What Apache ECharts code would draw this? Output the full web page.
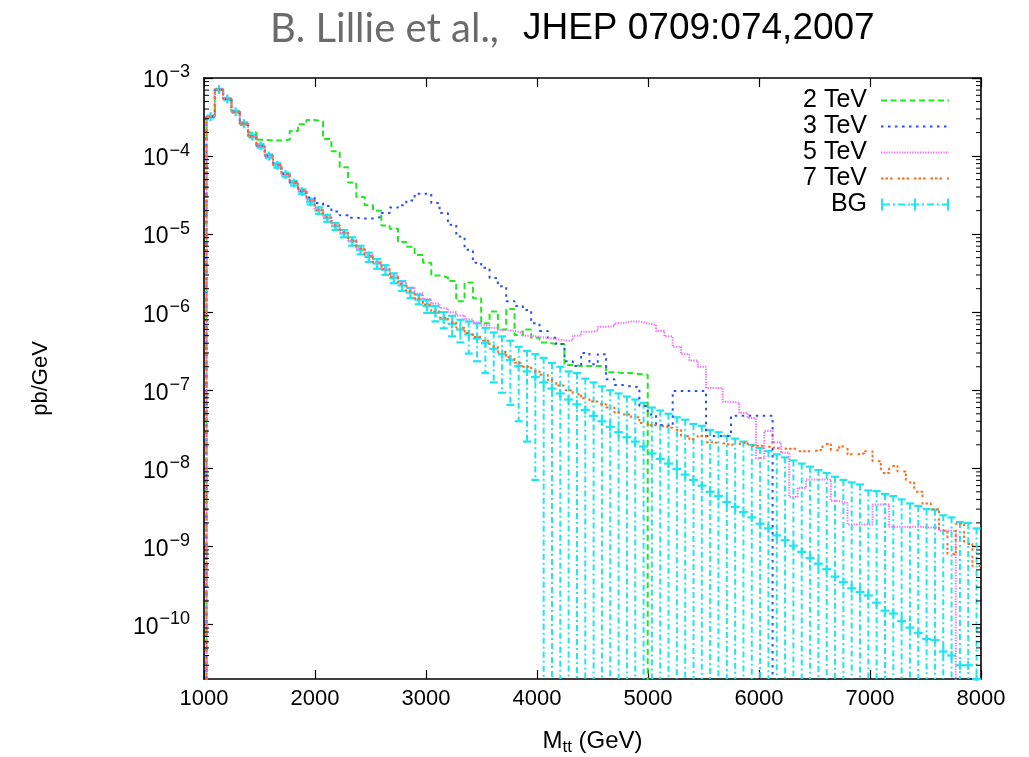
<!DOCTYPE html>
<html><head><meta charset="utf-8">
<script src="https://cdn.jsdelivr.net/npm/echarts@6/dist/echarts.min.js"></script>
<style>html,body{margin:0;padding:0;background:#fff;}#chart{width:1029px;height:757px;}</style>
</head><body><div id="chart"></div>
<script>
// ---- data ----
const binStart = 1022.5;   // GeV, left edge of first bin
const binWidth = 75;       // GeV
const xTicks = [1000, 2000, 3000, 4000, 5000, 6000, 7000, 8000];
const yDecades = [1e-10, 1e-9, 1e-8, 1e-7, 1e-6, 1e-5, 1e-4, 1e-3];
const seriesNames = ['2 TeV', '3 TeV', '5 TeV', '7 TeV', 'BG'];

const sig2TeV = [
 3.2e-4,7.1e-4,5.4e-4,3.7e-4,2.6e-4,2.0e-4,1.62e-4,1.58e-4,1.58e-4,1.62e-4,
 2.1e-4,2.55e-4,2.9e-4,2.8e-4,1.66e-4,1.15e-4,7.2e-5,4.6e-5,3.0e-5,2.35e-5,
 2.0e-5,1.29e-5,1.17e-5,7.9e-6,6.9e-6,5.4e-6,4.3e-6,2.95e-6,2.8e-6,2.5e-6,
 1.38e-6,2.4e-6,1.51e-6,7.2e-7,1.02e-6,6.0e-7,1.1e-6,5.1e-7,6.0e-7,4.7e-7,
 4.1e-7,3.9e-7,3.9e-7,2.1e-7,2.05e-7,2.05e-7,2.05e-7,2.05e-7,1.7e-7,1.66e-7,
 1.66e-7,1.62e-7,1.58e-7,0,0,0,0,0,0,0,
 0,0,0,0,0,0,0,0,0,0,
 0,0,0,0,0,0,0,0,0,0,
 0,0,0,0,0,0,0,0,0,0,
 0,0,0];
const sig3TeV = [
 3.2e-4,7.1e-4,5.4e-4,3.7e-4,2.6e-4,1.8e-4,1.36e-4,1.01e-4,7.7e-5,5.9e-5,
 4.6e-5,3.55e-5,2.95e-5,2.5e-5,2.3e-5,1.95e-5,1.74e-5,1.62e-5,1.58e-5,1.58e-5,
 1.66e-5,1.86e-5,2.2e-5,2.35e-5,2.7e-5,3.3e-5,3.3e-5,2.5e-5,1.86e-5,1.32e-5,
 9.3e-6,6.3e-6,4.3e-6,3.7e-6,2.75e-6,2.15e-6,1.38e-6,1.2e-6,1.07e-6,7.2e-7,
 5.75e-7,4.7e-7,3.9e-7,2.35e-7,2.05e-7,3.0e-7,2.15e-7,2.9e-7,1.38e-7,1.17e-7,
 1.12e-7,1.1e-7,6.3e-8,4.9e-8,3.6e-8,3.45e-8,9.8e-8,9.8e-8,9.8e-8,9.8e-8,
 2.6e-8,2.6e-8,2.6e-8,4.7e-8,4.7e-8,4.7e-8,4.7e-8,4.7e-8,0,0,
 0,0,0,0,0,0,0,0,0,0,
 0,0,0,0,0,0,0,0,0,0,
 0,0,0];
const sig5TeV = [
 3.2e-4,7.1e-4,5.4e-4,3.7e-4,2.6e-4,1.8e-4,1.36e-4,1.01e-4,7.7e-5,5.9e-5,
 4.6e-5,3.6e-5,2.7e-5,2.05e-5,1.65e-5,1.3e-5,1.05e-5,8.4e-6,6.6e-6,5.4e-6,
 4.4e-6,3.55e-6,2.95e-6,2.45e-6,2.05e-6,1.74e-6,1.48e-6,1.29e-6,1.12e-6,1.0e-6,
 9.1e-7,8.1e-7,7.4e-7,6.8e-7,6.3e-7,5.9e-7,5.75e-7,5.5e-7,5.0e-7,4.8e-7,
 4.7e-7,4.5e-7,4.35e-7,4.35e-7,5.0e-7,5.6e-7,5.75e-7,6.5e-7,6.6e-7,7.2e-7,
 7.6e-7,7.6e-7,7.2e-7,6.9e-7,5.75e-7,4.9e-7,3.6e-7,2.9e-7,2.4e-7,2.0e-7,
 1.07e-7,1.07e-7,7.1e-8,6.9e-8,5.1e-8,4.4e-8,1.35e-8,3.0e-8,2.15e-8,1.58e-8,
 4.3e-9,5.6e-9,7.2e-9,7.2e-9,7.2e-9,3.8e-9,3.6e-9,1.9e-9,1.9e-9,1.9e-9,
 3.45e-9,3.45e-9,1.78e-9,1.78e-9,1.78e-9,1.78e-9,1.74e-9,1.74e-9,1.58e-9,1.58e-9,
 0,0,0];
const sig7TeV = [
 3.2e-4,7.1e-4,5.4e-4,3.7e-4,2.6e-4,1.8e-4,1.36e-4,1.01e-4,7.7e-5,5.9e-5,
 4.6e-5,3.6e-5,2.7e-5,2.05e-5,1.65e-5,1.3e-5,1.05e-5,8.3e-6,6.5e-6,5.3e-6,
 4.3e-6,3.6e-6,2.85e-6,2.3e-6,1.85e-6,1.5e-6,1.25e-6,1.02e-6,8.5e-7,7.4e-7,
 6.3e-7,5.4e-7,4.8e-7,4.3e-7,3.6e-7,3.1e-7,2.65e-7,2.25e-7,2.0e-7,1.75e-7,
 1.58e-7,1.35e-7,1.15e-7,1.0e-7,8.9e-8,7.9e-8,7.2e-8,6.6e-8,6.0e-8,5.2e-8,
 4.9e-8,4.5e-8,3.8e-8,3.55e-8,3.45e-8,3.3e-8,3.1e-8,2.6e-8,2.35e-8,2.6e-8,
 2.15e-8,2.1e-8,2.0e-8,2.05e-8,2.15e-8,1.95e-8,1.95e-8,1.85e-8,1.8e-8,1.78e-8,
 1.78e-8,1.66e-8,1.66e-8,1.74e-8,2.05e-8,1.7e-8,1.9e-8,1.51e-8,1.55e-8,1.66e-8,
 1.23e-8,8.7e-9,1.07e-8,9.1e-9,6.6e-9,5.0e-9,3.55e-9,3.0e-9,1.58e-9,7.9e-10,
 1.95e-9,1.07e-9,5.6e-10];
const bgValue = [
 3.2e-4,7.1e-4,5.4e-4,3.7e-4,2.6e-4,1.8e-4,1.35e-4,1.0e-4,7.6e-5,5.8e-5,
 4.5e-5,3.5e-5,2.6e-5,2.0e-5,1.6e-5,1.26e-5,1.02e-5,8.1e-6,6.3e-6,5.1e-6,
 4.2e-6,3.5e-6,2.75e-6,2.2e-6,1.78e-6,1.45e-6,1.2e-6,9.8e-7,8.1e-7,7.1e-7,
 6.0e-7,5.2e-7,4.6e-7,4.0e-7,3.4e-7,2.9e-7,2.45e-7,2.04e-7,1.74e-7,1.48e-7,
 1.26e-7,1.05e-7,9.1e-8,7.6e-8,6.6e-8,5.6e-8,4.7e-8,4.0e-8,3.4e-8,2.9e-8,
 2.5e-8,2.2e-8,1.9e-8,1.55e-8,1.32e-8,1.15e-8,9.8e-9,8.3e-9,7.1e-9,6.0e-9,
 5.0e-9,4.4e-9,3.7e-9,3.2e-9,2.75e-9,2.35e-9,1.95e-9,1.7e-9,1.38e-9,1.2e-9,
 1.02e-9,8.5e-10,7.1e-10,6.0e-10,5.1e-10,4.1e-10,3.5e-10,2.9e-10,2.6e-10,2.35e-10,
 1.9e-10,1.5e-10,1.38e-10,1.1e-10,9.1e-11,7.8e-11,6.5e-11,6.3e-11,4.5e-11,4.0e-11,
 3.0e-11,3.0e-11,2.0e-11];
const bgHigh = [
 3.3e-4,7.25e-4,5.55e-4,3.8e-4,2.7e-4,1.87e-4,1.42e-4,1.05e-4,8.1e-5,6.1e-5,
 4.8e-5,3.75e-5,2.8e-5,2.2e-5,1.76e-5,1.39e-5,1.13e-5,9.1e-6,7.1e-6,5.8e-6,
 4.8e-6,4.0e-6,3.15e-6,2.5e-6,2.05e-6,1.67e-6,1.43e-6,1.2e-6,1.0e-6,9.0e-7,
 8.0e-7,7.6e-7,7.2e-7,6.3e-7,5.5e-7,4.9e-7,4.3e-7,3.6e-7,3.2e-7,2.9e-7,
 2.6e-7,2.24e-7,2.0e-7,1.74e-7,1.66e-7,1.41e-7,1.26e-7,1.12e-7,1.0e-7,9.1e-8,
 8.3e-8,7.6e-8,6.9e-8,6.0e-8,5.5e-8,5.0e-8,4.5e-8,4.2e-8,3.7e-8,3.5e-8,
 3.1e-8,2.9e-8,2.6e-8,2.4e-8,2.2e-8,2.0e-8,1.82e-8,1.66e-8,1.51e-8,1.38e-8,
 1.26e-8,1.15e-8,1.05e-8,9.5e-9,8.7e-9,7.8e-9,7.1e-9,6.6e-9,6.2e-9,5.2e-9,
 5.1e-9,4.7e-9,4.4e-9,4.0e-9,3.55e-9,3.3e-9,3.0e-9,2.95e-9,2.5e-9,2.35e-9,
 2.05e-9,2.0e-9,1.7e-9];
const bgLow = [
 3.1e-4,6.95e-4,5.25e-4,3.6e-4,2.5e-4,1.73e-4,1.28e-4,9.5e-5,7.1e-5,5.45e-5,
 4.2e-5,3.25e-5,2.4e-5,1.82e-5,1.44e-5,1.13e-5,9.1e-6,7.1e-6,5.5e-6,4.4e-6,
 3.6e-6,3.0e-6,2.35e-6,1.87e-6,1.51e-6,1.26e-6,9.8e-7,7.6e-7,6.2e-7,4.9e-7,
 4.1e-7,2.95e-7,2.35e-7,1.66e-7,1.26e-7,9.3e-8,6.5e-8,4.0e-8,2.2e-8,7.1e-9,
 0,0,0,0,0,0,0,0,0,0,
 0,0,0,0,0,0,0,0,0,0,
 0,0,0,0,0,0,0,0,0,0,
 0,0,0,0,0,0,0,0,0,0,
 0,0,0,0,0,0,0,0,0,0,
 0,0,0];

// ---- presentation ----
const X_MIN = 1000, X_MAX = 8000, Y_MIN = 2e-11, Y_MAX = 1e-3;
const FLOOR = 1e-15; // empty bins are drawn down below the axis bottom
const FONT = '"Liberation Sans", Arial, Helvetica, sans-serif';
const colors = { g: '#22e622', b: '#2a4cff', m: '#f26ef2', o: '#ff6a1a', c: '#1ee6ee' };

function histData(vals) {
  const pts = [[binStart, FLOOR]];
  vals.forEach((v, i) => pts.push([binStart + i * binWidth, v > 0 ? v : FLOOR]));
  const last = vals[vals.length - 1];
  pts.push([binStart + vals.length * binWidth, last > 0 ? last : FLOOR]);
  return pts;
}
function histSeries(name, vals, color, dash) {
  return {
    name, type: 'line', step: 'end', data: histData(vals),
    symbol: 'none', showSymbol: false, clip: true, animation: false,
    lineStyle: { color, width: 2, type: dash },
    itemStyle: { color }
  };
}
const bgData = bgValue.map((v, i) => [binStart + (i + 0.5) * binWidth, v, bgLow[i], bgHigh[i]]);

const minorVals = [];
for (let e = -11; e <= -4; e++) for (let m = 2; m <= 9; m++) {
  const v = m * Math.pow(10, e);
  if (v > Y_MIN && v < Y_MAX) minorVals.push([X_MIN, v]);
}

const bgIcon = 'path://M0 0h2v12h-2z M66 0h2v12h-2z M33 0h2v12h-2z M2 5h7v2h-7z M12 5h2v2h-2z M17 5h7v2h-7z M27 5h2v2h-2z M30 5h8v2h-8z M41 5h2v2h-2z M46 5h7v2h-7z M56 5h2v2h-2z M61 5h5v2h-5z';

const axisLineStyle = { color: '#000', width: 1.6 };
const tickStyle = { color: '#000', width: 1.2 };

const chart = echarts.init(document.getElementById('chart'), null, { renderer: 'canvas' });
chart.setOption({
  animation: false,
  backgroundColor: '#fff',
  title: {
    text: '{a|B. Lillie et al.,}{b|JHEP 0709:074,2007}',
    left: 270, top: 9, padding: 0,
    textStyle: {
      fontWeight: 'normal',
      rich: {
        a: { fontFamily: 'Lato, "Open Sans", sans-serif', fontSize: 40, fontWeight: 'normal', color: '#6b6b6b' },
        b: { fontFamily: FONT, fontSize: 37, fontWeight: 'normal', color: '#000', padding: [0, 0, 0, 24] }
      }
    }
  },
  grid: { left: 204, right: 48, top: 78, bottom: 78, containLabel: false, outerBoundsMode: 'none' },
  legend: {
    data: ['2 TeV', '3 TeV', '5 TeV', '7 TeV', { name: 'BG', icon: bgIcon, itemStyle: { opacity: 1 } }],
    orient: 'vertical', align: 'right', right: 79, top: 88, padding: 0,
    itemWidth: 68, itemHeight: 12, itemGap: 1, selectedMode: false,
    itemStyle: { opacity: 0 },
    textStyle: { fontFamily: FONT, fontSize: 25, color: '#000', lineHeight: 25, padding: [0, 9, 0, 0] }
  },
  xAxis: [{
    type: 'value', min: X_MIN, max: X_MAX, interval: 1000, position: 'bottom',
    axisLine: { show: true, lineStyle: axisLineStyle },
    axisTick: { show: true, inside: true, length: 9, lineStyle: tickStyle },
    axisLabel: { fontFamily: FONT, fontSize: 22, color: '#000', margin: 9, formatter: (v) => String(v) },
    splitLine: { show: false },
    name: '{m|M}{s|tt}{m| (GeV)}', nameLocation: 'middle', nameGap: 50,
    nameTextStyle: { rich: {
      m: { fontFamily: FONT, fontSize: 24, color: '#000', verticalAlign: 'top', lineHeight: 27 },
      s: { fontFamily: FONT, fontSize: 17, color: '#000', verticalAlign: 'bottom', lineHeight: 17 }
    } }
  }, {
    type: 'value', min: X_MIN, max: X_MAX, interval: 1000, position: 'top',
    axisLine: { show: true, lineStyle: axisLineStyle },
    axisTick: { show: true, inside: true, length: 9, lineStyle: tickStyle },
    axisLabel: { show: false }, splitLine: { show: false }
  }],
  yAxis: [{
    type: 'log', logBase: 10, min: Y_MIN, max: Y_MAX, position: 'left',
    axisLine: { show: true, lineStyle: axisLineStyle },
    axisTick: { show: true, inside: true, length: 9, lineStyle: tickStyle },
    splitLine: { show: false }, minorTick: { show: false },
    axisLabel: {
      margin: 14, showMinLabel: false,
      formatter: (v) => {
        const e = Math.log10(v), r = Math.round(e);
        if (Math.abs(e - r) > 1e-6) return '';
        return '{b|10}{s|' + String(r).replace('-', '\u2212') + '}';
      },
      rich: {
        b: { fontFamily: FONT, fontSize: 23, color: '#000', verticalAlign: 'bottom', lineHeight: 29 },
        s: { fontFamily: FONT, fontSize: 18, color: '#000', verticalAlign: 'top', lineHeight: 18, padding: [0, 0, 0, 1] }
      }
    },
    name: 'pb/GeV', nameLocation: 'middle', nameGap: 152, nameRotate: 90,
    nameTextStyle: { fontFamily: FONT, fontSize: 22, color: '#000' }
  }, {
    type: 'log', logBase: 10, min: Y_MIN, max: Y_MAX, position: 'right',
    axisLine: { show: true, lineStyle: axisLineStyle },
    axisTick: { show: true, inside: true, length: 9, lineStyle: tickStyle },
    axisLabel: { show: false }, splitLine: { show: false }
  }],
  series: [
    histSeries('2 TeV', sig2TeV, colors.g, [6, 3.5]),
    histSeries('3 TeV', sig3TeV, colors.b, [2.5, 4.5]),
    histSeries('5 TeV', sig5TeV, colors.m, [1.3, 1.3]),
    histSeries('7 TeV', sig7TeV, colors.o, [2.5, 2, 2.5, 2, 2.5, 5]),
    {
      name: 'BG', type: 'custom', data: bgData, encode: { x: 0, y: 1 },
      itemStyle: { color: colors.c }, animation: false,
      renderItem: (params, api) => {
        const cs = params.coordSys;
        const bottom = cs.y + cs.height, top = cs.y;
        const x = api.value(0), v = api.value(1), lo = api.value(2), hi = api.value(3);
        const pC = api.coord([x, v]);
        const px = pC[0];
        const yHi = Math.max(api.coord([x, hi])[1], top);
        const yLo = lo > 0 ? Math.min(api.coord([x, lo])[1], bottom) : bottom;
        const st = { stroke: colors.c, lineWidth: 2.2 };
        const ch = [
          { type: 'line', shape: { x1: px, y1: yHi, x2: px, y2: yLo }, style: { stroke: colors.c, lineWidth: 2, lineDash: [6, 3, 2, 3] } },
          { type: 'line', shape: { x1: px - 4, y1: yHi, x2: px + 4, y2: yHi }, style: st }
        ];
        if (lo > 0 && yLo < bottom) ch.push({ type: 'line', shape: { x1: px - 4, y1: yLo, x2: px + 4, y2: yLo }, style: st });
        if (pC[1] <= bottom + 0.5) {
          const yc = pC[1];
          ch.push({ type: 'line', shape: { x1: px - 4.5, y1: yc, x2: px + 4.5, y2: yc }, style: st });
          ch.push({ type: 'line', shape: { x1: px, y1: yc - 4.5, x2: px, y2: Math.min(yc + 4.5, bottom + 2) }, style: st });
        }
        return { type: 'group', children: ch };
      }
    },
    {
      name: 'minorTicks', type: 'custom', data: minorVals, encode: { x: 0, y: 1 },
      silent: true, z: 5, animation: false,
      renderItem: (params, api) => {
        const cs = params.coordSys;
        const y = api.coord([X_MIN, api.value(1)])[1];
        const st = { stroke: '#000', lineWidth: 1 };
        return { type: 'group', children: [
          { type: 'line', shape: { x1: cs.x, y1: y, x2: cs.x + 5, y2: y }, style: st },
          { type: 'line', shape: { x1: cs.x + cs.width - 5, y1: y, x2: cs.x + cs.width, y2: y }, style: st }
        ] };
      }
    }
  ]
});
</script></body></html>
